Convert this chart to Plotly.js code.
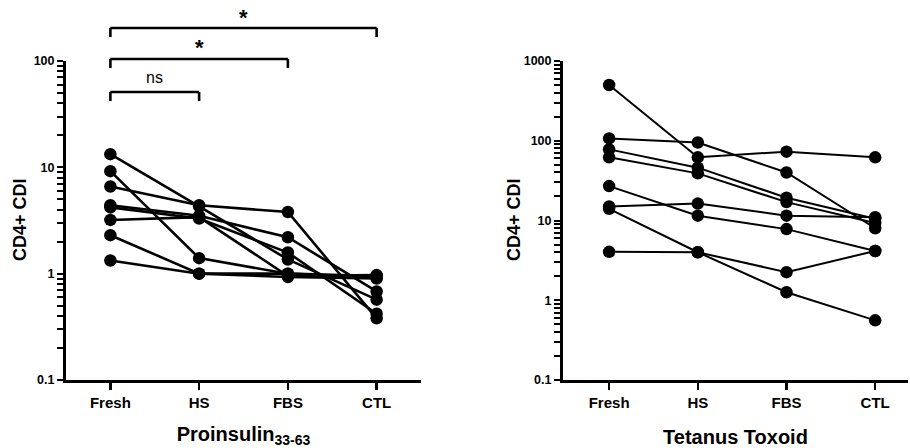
<!DOCTYPE html>
<html>
<head>
<meta charset="utf-8">
<script src="https://cdn.plot.ly/plotly-3.0.1.min.js"></script>
<style>html,body{margin:0;padding:0;background:#fff;}#chart{width:910px;height:448px;}</style>
</head>
<body>
<div id="chart"></div>
<script>
// Categories
const categories = ['Fresh', 'HS', 'FBS', 'CTL'];

// Proinsulin 33-63 (each donor across conditions)
const pi1 = [13.3, 4.3, 1.36, 0.57];
const pi2 = [9.2, 1.4, 1.0, 0.92];
const pi3 = [6.6, 4.4, 3.8, 0.38];
const pi4 = [4.4, 3.5, 2.2, 0.68];
const pi5 = [4.2, 3.3, 1.58, 0.42];
const pi6 = [3.2, 3.4, 0.95, 0.97];
const pi7 = [2.3, 1.0, 1.0, 0.95];
const pi8 = [1.33, 1.0, 0.93, 0.9];

// Tetanus Toxoid
const tt1 = [500, 62, 73, 62];
const tt2 = [107, 95, 40, 8.0];
const tt3 = [78, 46, 19.3, 10.5];
const tt4 = [62, 39, 17, 9.3];
const tt5 = [27, 11.5, 7.8, 4.15];
const tt6 = [15, 16.3, 11.5, 11];
const tt7 = [14, 4.0, 1.26, 0.56];
const tt8 = [4.05, 4.0, 2.25, 4.15];

// Y tick labels
const piTicks = ['0.1', '1', '10', '100'];
const ttTicks = ['0.1', '1', '10', '100', '1000'];
const minorDigits = [2, 3, 4, 5, 6, 7, 8, 9];

// Significance comparisons (Fresh vs ...)
const sigFrom = [0, 0, 0];
const sigTo = [1, 2, 3];
const sigLabels = ['ns', '*', '*'];

const yTitle = 'CD4+ CDI';

const proinsulin = [pi1, pi2, pi3, pi4, pi5, pi6, pi7, pi8];
const tetanus = [tt1, tt2, tt3, tt4, tt5, tt6, tt7, tt8];

const FONT = 'Liberation Sans, Arial, sans-serif';
const traces = [];
proinsulin.forEach(v => traces.push({
  x: categories, y: v, xaxis: 'x', yaxis: 'y', type: 'scatter', mode: 'lines+markers',
  line: {color: '#000', width: 2.6}, marker: {color: '#000', size: 12.5}, showlegend: false
}));
tetanus.forEach(v => traces.push({
  x: categories, y: v, xaxis: 'x2', yaxis: 'y2', type: 'scatter', mode: 'lines+markers',
  line: {color: '#000', width: 2}, marker: {color: '#000', size: 12.5}, showlegend: false
}));

const W = 910, H = 448;
const py = p => (H - p) / H;  // pixel-y -> paper

function tickSet(labels) {
  const vals = [], text = [];
  labels.forEach((lab, i) => {
    const v = Number(lab);
    vals.push(v); text.push(lab);
    if (i < labels.length - 1) minorDigits.forEach(d => { vals.push(d * v); text.push(''); });
  });
  return {vals, text};
}

function yax(range, labels, anchor) {
  const t = tickSet(labels);
  return {
    type: 'log', range: range, anchor: anchor,
    tickmode: 'array', tickvals: t.vals, ticktext: t.text,
    showline: true, linewidth: 3, linecolor: 'black',
    ticks: 'outside', ticklen: 6, tickwidth: 2, tickcolor: 'black',
    gridcolor: 'rgba(255,255,255,0)',
    tickfont: {family: FONT, size: 12.5, color: 'black', weight: 'bold'},
    domain: [py(380), py(61)]
  };
}
function xax(domain, range, title, anchor) {
  return {
    type: 'category', categoryorder: 'array', categoryarray: categories,
    range: range, domain: domain, anchor: anchor,
    showgrid: false, zeroline: false,
    showline: true, linecolor: '#000', linewidth: 3,
    ticks: 'outside', ticklen: 7, tickwidth: 2.4, tickcolor: '#000',
    tickfont: {family: FONT, size: 15, color: '#000', weight: 'bold'},
    title: {text: title, font: {family: FONT, size: 20, color: '#000', weight: 'bold'}, standoff: 20}
  };
}

const layout = {
  width: W, height: H, showlegend: false,
  margin: {l: 0, r: 0, t: 0, b: 0},
  xaxis: xax([66 / W, 421 / W], [-0.5, 3.5], 'Proinsulin<sub>33-63</sub>', 'y'),
  yaxis: yax([-1, 2], piTicks, 'x'),
  xaxis2: xax([563 / W, 908 / W], [-0.52, 3.37], 'Tetanus Toxoid', 'y2'),
  yaxis2: yax([-1, 3], ttTicks, 'x2'),
  shapes: [],
  annotations: [
    {xref: 'paper', yref: 'paper', x: 20 / W, y: py(220), text: yTitle, textangle: -90, showarrow: false,
     xanchor: 'center', yanchor: 'middle', font: {family: FONT, size: 18, color: '#000', weight: 'bold'}},
    {xref: 'paper', yref: 'paper', x: 514 / W, y: py(220), text: yTitle, textangle: -90, showarrow: false,
     xanchor: 'center', yanchor: 'middle', font: {family: FONT, size: 18, color: '#000', weight: 'bold'}}
  ]
};

const bracketTop = [92, 59, 28];
const labelY = [77, 47, 17];
sigTo.forEach((to, i) => {
  const top = py(bracketTop[i]), bot = py(bracketTop[i] + 9);
  const a = sigFrom[i], b = to;
  layout.shapes.push({type: 'line', xref: 'x', yref: 'paper', x0: a, x1: b, y0: top, y1: top, line: {color: '#000', width: 2.6}});
  layout.shapes.push({type: 'line', xref: 'x', yref: 'paper', x0: a, x1: a, y0: top, y1: bot, line: {color: '#000', width: 2.6}});
  layout.shapes.push({type: 'line', xref: 'x', yref: 'paper', x0: b, x1: b, y0: top, y1: bot, line: {color: '#000', width: 2.6}});
  const isStar = sigLabels[i] === '*';
  layout.annotations.push({
    xref: 'x', yref: 'paper', x: (a + b) / 2, y: py(labelY[i]), yanchor: 'middle', xanchor: 'center',
    text: sigLabels[i], showarrow: false,
    font: {family: FONT, size: isStar ? 22 : 16, color: '#000', weight: isStar ? 'bold' : 'normal'}
  });
});

Plotly.newPlot('chart', traces, layout, {displayModeBar: false, staticPlot: true});
</script>
</body>
</html>
